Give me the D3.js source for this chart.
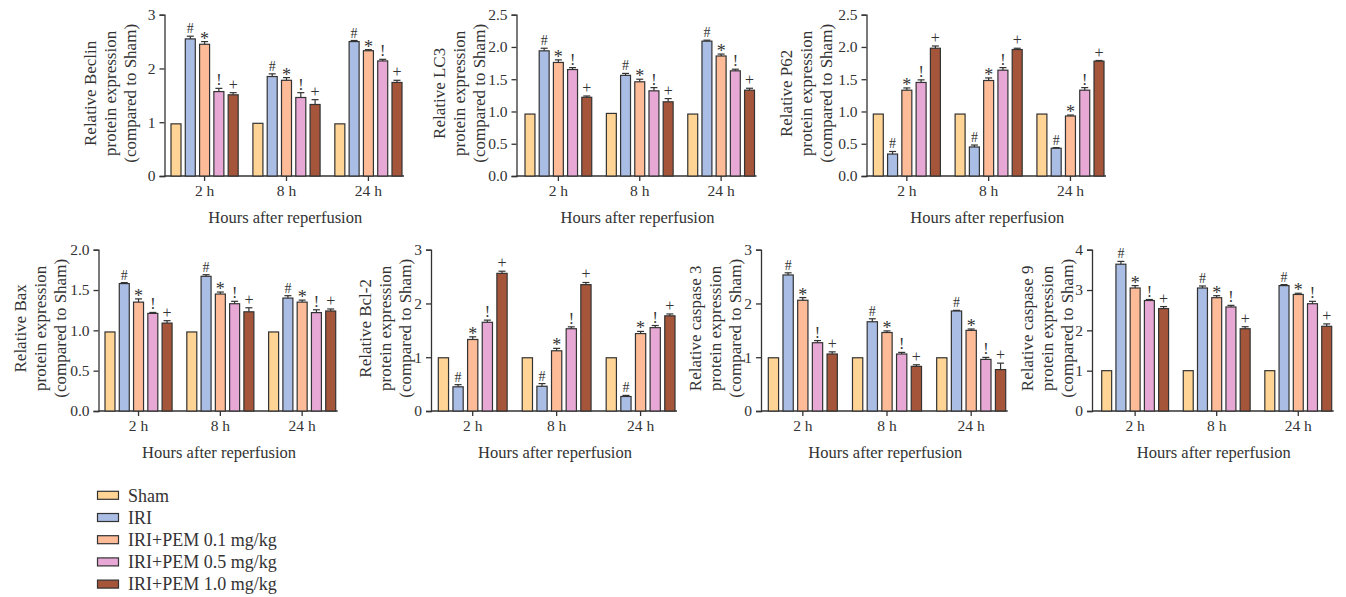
<!DOCTYPE html>
<html>
<head>
<meta charset="utf-8">
<script src="https://cdn.jsdelivr.net/npm/d3@7"></script>
<style>
  html, body { margin: 0; padding: 0; background: #fff; }
  svg { display: block; }
  text { font-family: "Liberation Serif", "DejaVu Serif", serif; fill: #333; }
  .mk { opacity: 0.999; }
</style>
</head>
<body>
<svg id="chart" width="1346" height="597"></svg>
<script>
// ---- data ----
const groups = ["2 h", "8 h", "24 h"];
const series = ["Sham", "IRI", "IRI+PEM 0.1 mg/kg", "IRI+PEM 0.5 mg/kg", "IRI+PEM 1.0 mg/kg"];
const colors = ["#FFD494", "#A9BDE5", "#FDBB98", "#E8A8D6", "#A5553A"];
const markers = ["", "#", "*", "!", "+"];
const xTitle = "Hours after reperfusion";

// values per group: [Sham, IRI, 0.1, 0.5, 1.0]
const beclinMean = [[0.97, 2.55, 2.45, 1.57, 1.51], [0.98, 1.85, 1.78, 1.46, 1.33], [0.97, 2.50, 2.33, 2.14, 1.74]];
const beclinErr  = [[0, 0.05, 0.05, 0.06, 0.04], [0, 0.05, 0.05, 0.09, 0.09], [0, 0.02, 0.02, 0.03, 0.04]];
const lc3Mean = [[0.96, 1.94, 1.76, 1.65, 1.22], [0.97, 1.56, 1.46, 1.32, 1.15], [0.96, 2.09, 1.86, 1.63, 1.33]];
const lc3Err  = [[0, 0.04, 0.04, 0.03, 0.02], [0, 0.03, 0.04, 0.05, 0.05], [0, 0.015, 0.03, 0.025, 0.03]];
const p62Mean = [[0.96, 0.34, 1.33, 1.45, 1.98], [0.96, 0.45, 1.48, 1.64, 1.96], [0.96, 0.43, 0.93, 1.33, 1.78]];
const p62Err  = [[0, 0.04, 0.035, 0.04, 0.035], [0, 0.03, 0.04, 0.04, 0.02], [0, 0.01, 0.015, 0.04, 0.01]];
const baxMean = [[0.98, 1.58, 1.35, 1.21, 1.09], [0.98, 1.67, 1.45, 1.33, 1.23], [0.98, 1.40, 1.35, 1.22, 1.24]];
const baxErr  = [[0, 0.012, 0.04, 0.012, 0.03], [0, 0.02, 0.025, 0.03, 0.05], [0, 0.03, 0.025, 0.035, 0.025]];
const bcl2Mean = [[0.99, 0.45, 1.33, 1.65, 2.56], [0.99, 0.46, 1.12, 1.53, 2.35], [0.99, 0.27, 1.44, 1.55, 1.77]];
const bcl2Err  = [[0, 0.04, 0.05, 0.04, 0.04], [0, 0.05, 0.045, 0.035, 0.04], [0, 0.02, 0.04, 0.04, 0.035]];
const casp3Mean = [[0.99, 2.53, 2.06, 1.27, 1.06], [0.99, 1.66, 1.46, 1.06, 0.83], [0.99, 1.86, 1.50, 0.96, 0.77]];
const casp3Err  = [[0, 0.04, 0.05, 0.04, 0.04], [0, 0.055, 0.03, 0.03, 0.03], [0, 0.012, 0.025, 0.037, 0.12]];
const casp9Mean = [[1.00, 3.64, 3.05, 2.74, 2.54], [1.00, 3.05, 2.81, 2.58, 2.04], [1.00, 3.11, 2.89, 2.66, 2.10]];
const casp9Err  = [[0, 0.07, 0.06, 0.025, 0.05], [0, 0.05, 0.05, 0.04, 0.05], [0, 0.025, 0.03, 0.06, 0.06]];

const yLabels = [
  ["Relative Beclin", "protein expression", "(compared to Sham)"],
  ["Relative LC3", "protein expression", "(compared to Sham)"],
  ["Relative P62", "protein expression", "(compared to Sham)"],
  ["Relative Bax", "protein expression", "(compared to Sham)"],
  ["Relative Bcl-2", "protein expression", "(compared to Sham)"],
  ["Relative caspase 3", "protein expression", "(compared to Sham)"],
  ["Relative caspase 9", "protein expression", "(compared to Sham)"]
];
const yTicks = [[0, 1, 2, 3], [0, 0.5, 1, 1.5, 2, 2.5], [0, 0.5, 1, 1.5, 2, 2.5], [0, 0.5, 1, 1.5, 2], [0, 1, 2, 3], [0, 1, 2, 3], [0, 1, 2, 3, 4]];

// ---- layout ----
const panels = [
  { mean: beclinMean, err: beclinErr, ax: 164.5, b0: 171, b1: 402, top: 14.7, bot: 176, fmt: d3.format("d"), lab: 34 },
  { mean: lc3Mean, err: lc3Err, ax: 516.5, b0: 525, b1: 754.5, top: 14.7, bot: 176, fmt: d3.format(".1f"), lab: 37 },
  { mean: p62Mean, err: p62Err, ax: 866.5, b0: 873.3, b1: 1104, top: 14.7, bot: 176, fmt: d3.format(".1f"), lab: 40 },
  { mean: baxMean, err: baxErr, ax: 98.5, b0: 105, b1: 335.7, top: 249.7, bot: 411, fmt: d3.format(".1f"), lab: 38 },
  { mean: bcl2Mean, err: bcl2Err, ax: 431, b0: 438.3, b1: 675, top: 249.7, bot: 411, fmt: d3.format("d"), lab: 26 },
  { mean: casp3Mean, err: casp3Err, ax: 761, b0: 768.3, b1: 1005.7, top: 249.7, bot: 411, fmt: d3.format("d"), lab: 26 },
  { mean: casp9Mean, err: casp9Err, ax: 1092, b0: 1101.7, b1: 1331.7, top: 249.7, bot: 411, fmt: d3.format("d"), lab: 25 }
];

const svg = d3.select("#chart");
const stroke = "#333";
const ink = "#333";

panels.forEach((p, pi) => {
  const ticks = yTicks[pi];
  const y = d3.scaleLinear().domain([0, ticks[ticks.length - 1]]).range([p.bot, p.top]);
  const x0 = d3.scaleBand().domain(groups).range([p.b0, p.b1]).paddingInner(0.18).paddingOuter(0);
  const x1 = d3.scaleBand().domain(series).range([0, x0.bandwidth()]).paddingInner(0.3).paddingOuter(0);
  const g = svg.append("g");

  // y axis
  const yAxis = d3.axisLeft(y).tickValues(ticks).tickFormat(p.fmt).tickSize(5).tickPadding(4);
  const ya = g.append("g").attr("transform", `translate(${p.ax},0)`).call(yAxis);
  ya.select(".domain").attr("stroke", stroke).attr("stroke-width", 1.3);
  ya.selectAll(".tick line").attr("stroke", stroke).attr("stroke-width", 1.3);
  ya.selectAll(".tick text").attr("font-size", 15.5).attr("fill", ink)
    .style("font-family", "Liberation Serif, serif");

  // x axis
  const xAxis = d3.axisBottom(x0).tickSize(5).tickPadding(4).tickSizeOuter(0);
  const xa = g.append("g").attr("transform", `translate(0,${p.bot})`).call(xAxis);
  xa.select(".domain").attr("d", `M${p.ax},0H${p.b1 + 2}`).attr("stroke", stroke).attr("stroke-width", 1.3);
  xa.selectAll(".tick line").attr("stroke", stroke).attr("stroke-width", 1.3);
  xa.selectAll(".tick text").attr("font-size", 15.5).attr("fill", ink)
    .style("font-family", "Liberation Serif, serif");

  // bars
  groups.forEach((grp, gi) => {
    series.forEach((s, si) => {
      const v = p.mean[gi][si], e = p.err[gi][si];
      const bx = x0(grp) + x1(s);
      const bw = x1.bandwidth();
      g.append("rect")
        .attr("x", bx).attr("y", y(v))
        .attr("width", bw).attr("height", y(0) - y(v))
        .attr("fill", colors[si]).attr("stroke", stroke).attr("stroke-width", 1.2);
      if (e > 0) {
        const cx = bx + bw / 2;
        g.append("line").attr("x1", cx).attr("x2", cx).attr("y1", y(v)).attr("y2", y(v + e))
          .attr("stroke", stroke).attr("stroke-width", 1.2);
        g.append("line").attr("x1", cx - 3.5).attr("x2", cx + 3.5).attr("y1", y(v + e)).attr("y2", y(v + e))
          .attr("stroke", stroke).attr("stroke-width", 1.2);
      }
      if (markers[si]) {
        const m = markers[si];
        g.append("text")
          .attr("class", "mk")
          .attr("x", bx + bw / 2)
          .attr("y", y(v + e) - (m === "*" ? -3 : 3))
          .attr("text-anchor", "middle")
          .attr("fill", ink)
          .attr("font-size", m === "#" ? 14 : (m === "*" ? 18 : 16))
          .text(m);
      }
    });
  });

  // y label
  const cy = (p.top + p.bot) / 2 - 2;
  const lines = yLabels[pi];
  lines.forEach((ln, li) => {
    const lx = p.ax - p.lab - (lines.length - 1 - li) * 20;
    g.append("text")
      .attr("transform", `translate(${lx},${cy}) rotate(-90)`)
      .attr("text-anchor", "middle")
      .attr("dy", "0.35em")
      .attr("fill", ink)
      .attr("font-size", 17)
      .text(ln);
  });

  // x title
  g.append("text")
    .attr("x", (p.ax + p.b1) / 2 + 2)
    .attr("y", p.bot + 47)
    .attr("text-anchor", "middle")
    .attr("fill", ink)
    .attr("font-size", 16.5)
    .text(xTitle);
});

// legend
const leg = svg.append("g");
series.forEach((s, i) => {
  const cy = 495.3 + i * 22.2;
  leg.append("rect").attr("x", 97.5).attr("y", cy - 4).attr("width", 21).attr("height", 8)
    .attr("fill", colors[i]).attr("stroke", stroke).attr("stroke-width", 1.2);
  leg.append("text").attr("x", 128).attr("y", cy).attr("dy", "0.35em").attr("fill", ink)
    .attr("font-size", 18).text(s);
});
</script>
</body>
</html>
